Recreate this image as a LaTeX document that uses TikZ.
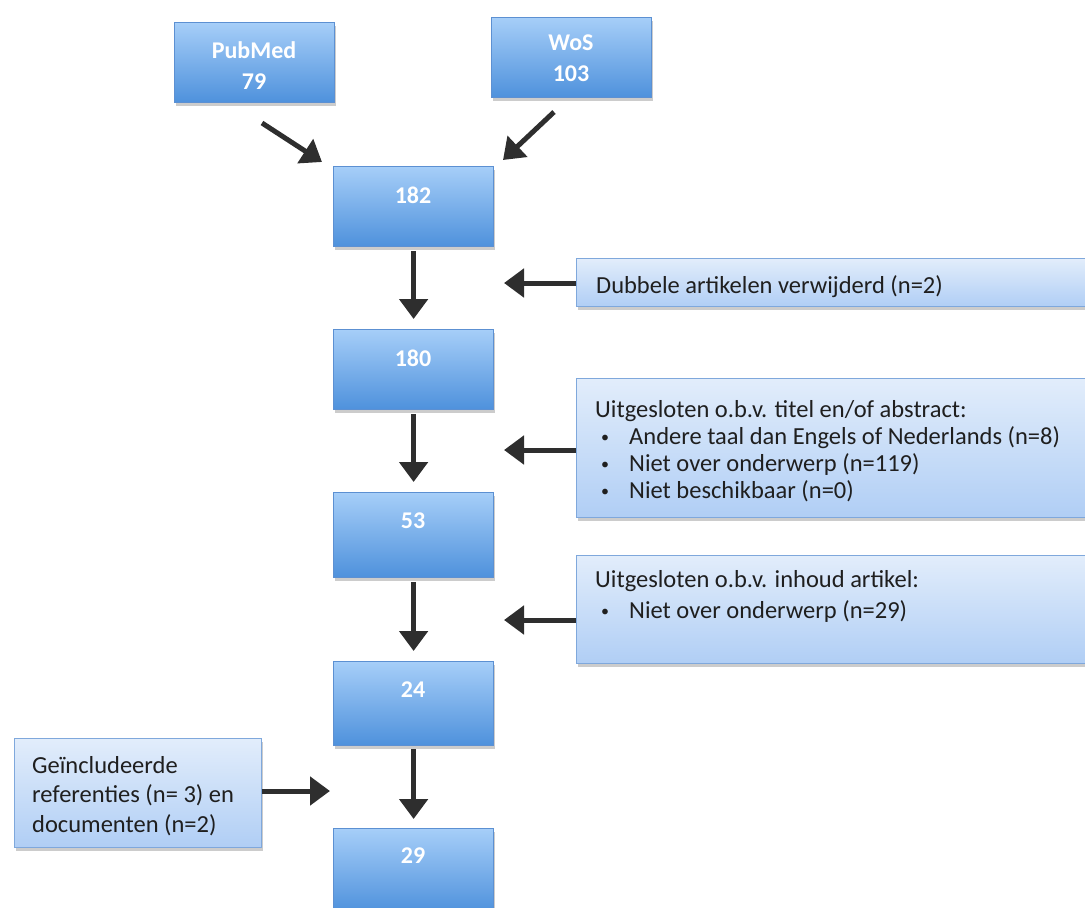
\documentclass[tikz,border=0pt]{standalone}
\usepackage{fontspec}
\setmainfont{Carlito}
\usetikzlibrary{arrows.meta,shadows,calc}
\definecolor{bigtop}{HTML}{A6CEF8}
\definecolor{bigbot}{HTML}{4E91DC}
\definecolor{bigline}{HTML}{5C90D2}
\definecolor{sidetop}{HTML}{E2EDFB}
\definecolor{sidebot}{HTML}{B0CEF5}
\definecolor{sideline}{HTML}{7FA8DC}
\definecolor{arrowc}{HTML}{2E2E2E}
\newcommand{\smallbul}{\makebox[28pt][l]{\raisebox{1.5pt}{\fontsize{16}{20}\selectfont\textbullet}}}
\begin{document}
\begin{tikzpicture}[x=1pt,y=-1pt,
  bigbox/.style={rectangle, draw=bigline, line width=1.2pt, top color=bigtop, bottom color=bigbot,
    minimum width=160pt, minimum height=80pt, inner sep=0pt, anchor=north west,
    drop shadow={shadow xshift=1pt, shadow yshift=-3pt, opacity=0.2, fill=black}},
  sidebox/.style={rectangle, draw=sideline, line width=1.2pt, top color=sidetop, bottom color=sidebot,
    inner sep=0pt, anchor=north west,
    drop shadow={shadow xshift=1pt, shadow yshift=-3pt, opacity=0.2, fill=black}},
  bigtext/.style={inner sep=0pt, anchor=base, text=white, font=\fontsize{24}{30}\selectfont\bfseries},
  sidetext/.style={inner sep=0pt, anchor=base west, text=black!88, font=\fontsize{24.5}{27}\selectfont},
  arr/.style={draw=arrowc, line width=5pt, -{Triangle[width=28pt,length=20pt]}}
]
\useasboundingbox (0,0) rectangle (1085,908);
\clip (0,0) rectangle (1085,908);

% source boxes
\node[bigbox] (pub) at (174,22) {};
\node[bigtext] (pubt) at (254,58) {\parbox[t]{160pt}{\centering PubMed\\[1pt]79}};
\node[bigbox] (wos) at (491,17) {};
\node[bigtext] (wost) at (571,50) {\parbox[t]{160pt}{\centering WoS\\[1pt]103}};

% main column
\node[bigbox] (b182) at (333,166) {};
\node[bigtext] (t182) at (413,203) {182};
\node[bigbox] (b180) at (333,329) {};
\node[bigtext] (t180) at (413,366) {180};
\node[bigbox, minimum height=85pt] (b53) at (333,492) {};
\node[bigtext] (t53) at (413,528) {53};
\node[bigbox, minimum height=84pt] (b24) at (333,661) {};
\node[bigtext] (t24) at (413,697) {24};
\node[bigbox, minimum height=84pt] (b29) at (333,828) {};
\node[bigtext] (t29) at (413,863) {29};

% side boxes
\node[sidebox, minimum width=530pt, minimum height=48pt] (r1) at (576,258) {};
\node[sidetext] (r1t) at (596,293) {Dubbele artikelen verwijderd (n=2)};

\node[sidebox, minimum width=530pt, minimum height=139pt] (r2) at (576,378) {};
\node[sidetext] (r2t) at (595,417) {\parbox[t]{480pt}{%
  Uitgesloten o.b.v. titel en/of abstract:\\
  \hspace*{6pt}\smallbul Andere taal dan Engels of Nederlands (n=8)\\
  \hspace*{6pt}\smallbul Niet over onderwerp (n=119)\\
  \hspace*{6pt}\smallbul Niet beschikbaar (n=0)}};

\node[sidebox, minimum width=530pt, minimum height=108pt] (r3) at (576,555) {};
\node[sidetext, font=\fontsize{24.5}{31}\selectfont] (r3t) at (595,587) {\parbox[t]{480pt}{%
  Uitgesloten o.b.v. inhoud artikel:\\
  \hspace*{6pt}\smallbul Niet over onderwerp (n=29)}};

\node[sidebox, minimum width=247pt, minimum height=109pt] (l1) at (14,738) {};
\node[sidetext, font=\fontsize{24.5}{29.5}\selectfont] (l1t) at (32,773) {\parbox[t]{230pt}{%
  Geïncludeerde\\referenties (n= 3) en\\documenten (n=2)}};

% free arrow ends
\coordinate (pa) at (262,123);
\coordinate (pb) at (322,162);
\coordinate (wa) at (554,112);
\coordinate (wb) at (503,160);
\coordinate (c1) at (504,283);
\coordinate (c2) at (504,450);
\coordinate (c3) at (504,620);
\coordinate (c4) at (330,791);

% arrows
\draw[arr] (pa) -- (pb);
\draw[arr] (wa) -- (wb);
\draw[arr, shorten <=4pt, shorten >=10pt] (b182.south) -- (b180.north);
\draw[arr, shorten <=4pt, shorten >=10pt] (b180.south) -- (b53.north);
\draw[arr, shorten <=4pt, shorten >=10pt] (b53.south) -- (b24.north);
\draw[arr, shorten <=3pt, shorten >=9pt] (b24.south) -- (b29.north);
\draw[arr] (r1.west |- c1) -- (c1);
\draw[arr] (r2.west |- c2) -- (c2);
\draw[arr] (r3.west |- c3) -- (c3);
\draw[arr] (l1.east |- c4) -- (c4);
\end{tikzpicture}
\end{document}
